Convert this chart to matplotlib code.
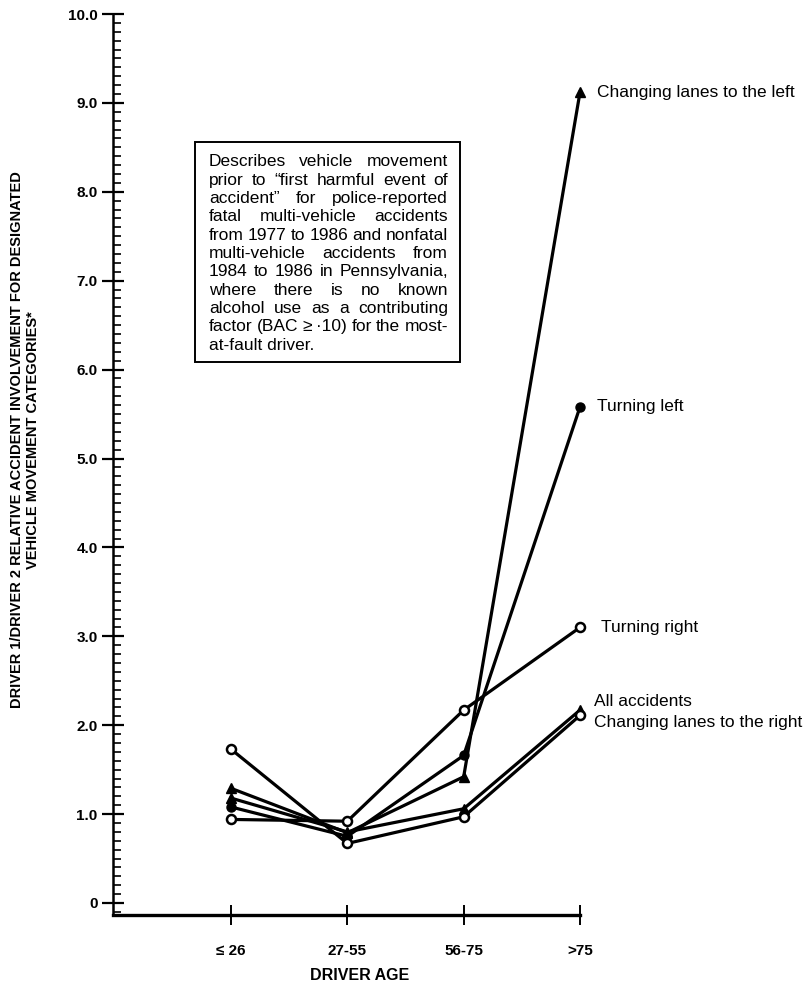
import matplotlib
matplotlib.use("Agg")
import matplotlib.pyplot as plt
from matplotlib.ticker import MultipleLocator
from matplotlib.patches import Rectangle

ages = ["\u2264 26", "27-55", "56-75", ">75"]
changing_left = [1.29, 0.79, 1.42, 9.12]
turning_left = [1.08, 0.75, 1.66, 5.58]
turning_right = [0.94, 0.92, 2.17, 3.10]
all_accidents = [1.18, 0.80, 1.06, 2.17]
changing_right = [1.73, 0.67, 0.97, 2.11]

y_ticks = [0, 1, 2, 3, 4, 5, 6, 7, 8, 9, 10]
y_tick_labels = ["0", "1.0", "2.0", "3.0", "4.0", "5.0", "6.0", "7.0", "8.0", "9.0", "10.0"]

note_lines = [
    "Describes vehicle movement",
    "prior to \u201cfirst harmful event of",
    "accident\u201d for police-reported",
    "fatal multi-vehicle accidents",
    "from 1977 to 1986 and nonfatal",
    "multi-vehicle accidents from",
    "1984 to 1986 in Pennsylvania,",
    "where there is no known",
    "alcohol use as a contributing",
    "factor (BAC \u2265 \u00b710) for the most-",
    "at-fault driver.",
]

plt.rcParams["font.family"] = ["Liberation Sans", "DejaVu Sans"]

W, H = 807, 983
fig = plt.figure(figsize=(W / 100, H / 100), dpi=100)

# axes box in pixels (from the top-left corner of the picture)
left_px, right_px, top_px, bottom_px = 113, 580, 14, 915
ax = fig.add_axes([left_px / W, 1 - bottom_px / H,
                   (right_px - left_px) / W, (bottom_px - top_px) / H])

x = list(range(len(ages)))
ax.set_xlim(-(231 - left_px) / 116.3, 3)
ax.set_ylim(-(bottom_px - 903) / 88.9, 10.0)

line_kw = dict(color="black", lw=2.3, clip_on=False, zorder=3)
ax.plot(x, changing_left, marker="^", ms=7.5, mfc="black", **line_kw)
ax.plot(x, turning_left, marker="o", ms=6.5, mfc="black", **line_kw)
ax.plot(x, all_accidents, marker="^", ms=7.5, mfc="black", **line_kw)
ax.plot(x, turning_right, marker="o", ms=6.5, mfc="white", mew=1.8, **line_kw)
ax.plot(x, changing_right, marker="o", ms=6.5, mfc="white", mew=1.8, **line_kw)

label_kw = dict(textcoords="offset points", fontsize=12.5, va="center", ha="left")
ax.annotate("Changing lanes to the left", (3, changing_left[3]), xytext=(12, 0), **label_kw)
ax.annotate("Turning left", (3, turning_left[3]), xytext=(12, 0), **label_kw)
ax.annotate("Turning right", (3, turning_right[3]), xytext=(15, 0), **label_kw)
ax.annotate("All accidents", (3, all_accidents[3]), xytext=(10, 6), **label_kw)
ax.annotate("Changing lanes to the right", (3, changing_right[3]), xytext=(10, -5), **label_kw)

for s in ["top", "right"]:
    ax.spines[s].set_visible(False)
ax.spines["left"].set_linewidth(1.8)
ax.spines["bottom"].set_linewidth(2.4)

ax.set_yticks(y_ticks)
ax.set_yticklabels(y_tick_labels, fontsize=11, fontweight="bold")
ax.yaxis.set_minor_locator(MultipleLocator(0.1))
ax.tick_params(axis="y", which="major", direction="inout", length=16, width=1.6, pad=3)
ax.tick_params(axis="y", which="minor", direction="in", length=6, width=1.2)

ax.set_xticks(x)
ax.set_xticklabels(ages, fontsize=11, fontweight="bold")
ax.tick_params(axis="x", which="major", direction="inout", length=14, width=1.4, pad=14)

fig.text(360 / W, 1 - 975 / H, "DRIVER AGE", ha="center", va="center",
         fontsize=11.5, fontweight="bold")
fig.text(17 / W, 1 - 440 / H,
         "DRIVER 1/DRIVER 2 RELATIVE ACCIDENT INVOLVEMENT FOR DESIGNATED",
         rotation=90, ha="center", va="center", fontsize=10.5, fontweight="bold")
fig.text(33 / W, 1 - 440 / H, "VEHICLE MOVEMENT CATEGORIES*",
         rotation=90, ha="center", va="center", fontsize=10.5, fontweight="bold")

# note box with justified text
box_l, box_r, box_t, box_b = 195, 460, 142, 362
fig.add_artist(Rectangle((box_l / W, 1 - box_b / H), (box_r - box_l) / W,
                         (box_b - box_t) / H, transform=fig.transFigure,
                         fill=False, ec="black", lw=1.4))
text_l, text_r, first_y, step = 209, 448, 162, 18.3
note_kw = dict(fontsize=12.5, va="center", ha="left")
fig.canvas.draw()
renderer = fig.canvas.get_renderer()

def word_width(word):
    t = fig.text(0, 0, word, **note_kw)
    w = t.get_window_extent(renderer).width
    t.remove()
    return w

for i, line in enumerate(note_lines):
    y = 1 - (first_y + i * step) / H
    words = line.split()
    if i == len(note_lines) - 1 or len(words) == 1:
        fig.text(text_l / W, y, line, **note_kw)
        continue
    widths = [word_width(w) for w in words]
    gap = (text_r - text_l - sum(widths)) / (len(words) - 1)
    xpos = text_l
    for w, wd in zip(words, widths):
        fig.text(xpos / W, y, w, **note_kw)
        xpos += wd + gap

fig.savefig("out.png", dpi=100)
